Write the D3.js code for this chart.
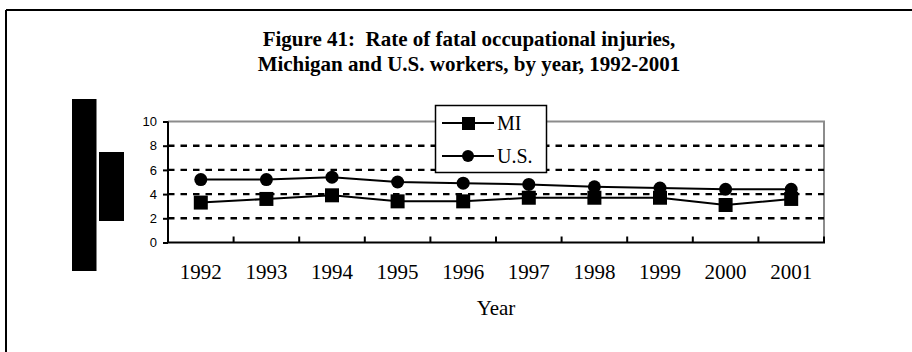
<!DOCTYPE html>
<html>
<head>
<meta charset="utf-8">
<script src="https://cdn.jsdelivr.net/npm/d3@7"></script>
<style>
  html, body { margin: 0; padding: 0; background: #fff; }
  svg { display: block; }
  text { white-space: pre; }
</style>
</head>
<body>
<svg id="chart" width="912" height="352"></svg>
<script>
// Fatal occupational injury rates (per 100,000 workers)
const years = ["1992", "1993", "1994", "1995", "1996", "1997", "1998", "1999", "2000", "2001"];
const miRates = [3.3, 3.6, 3.9, 3.4, 3.4, 3.7, 3.7, 3.7, 3.1, 3.6];
const usRates = [5.2, 5.2, 5.4, 5.0, 4.9, 4.8, 4.6, 4.5, 4.4, 4.4];
const yTicks = [0, 2, 4, 6, 8, 10];
const titleLines = [
  "Figure 41:  Rate of fatal occupational injuries,",
  "Michigan and U.S. workers, by year, 1992-2001"
];

const serif = "'Liberation Serif', 'Times New Roman', serif";
const svg = d3.select("#chart");
const plot = { left: 168, right: 824, top: 121.5, bottom: 242.5 };

// outer frame (top and left edges)
svg.append("line").attr("x1", 6).attr("x2", 912).attr("y1", 10).attr("y2", 10)
  .attr("stroke", "#000").attr("stroke-width", 2);
svg.append("line").attr("x1", 6).attr("x2", 6).attr("y1", 10).attr("y2", 352)
  .attr("stroke", "#000").attr("stroke-width", 2);

// title
svg.append("g").selectAll("text").data(titleLines).join("text")
  .attr("x", 469).attr("y", (d, i) => 46 + i * 25)
  .attr("text-anchor", "middle")
  .attr("font-family", serif)
  .attr("font-weight", "bold").attr("font-size", 21)
  .text(d => d);

// solid blocks standing in for the vertical axis title
svg.append("rect").attr("x", 72).attr("y", 99).attr("width", 24.5).attr("height", 172).attr("fill", "#000");
svg.append("rect").attr("x", 99).attr("y", 152).attr("width", 25).attr("height", 69).attr("fill", "#000");

const x = d3.scaleBand().domain(years).range([plot.left, plot.right]);
const y = d3.scaleLinear().domain([0, 10]).range([plot.bottom, plot.top]);

// plot border (top/right grey)
svg.append("path")
  .attr("d", `M${plot.left},${y(10)}H${plot.right}V${plot.bottom}`)
  .attr("fill", "none").attr("stroke", "#8c8c8c").attr("stroke-width", 2);

// dashed gridlines
svg.append("g").selectAll("line").data(yTicks.filter(v => v > 0 && v < 10)).join("line")
  .attr("x1", plot.left).attr("x2", plot.right)
  .attr("y1", d => y(d)).attr("y2", d => y(d))
  .attr("stroke", "#000").attr("stroke-width", 2.4)
  .attr("stroke-dasharray", "6.5,6");

// y axis
const yAxis = svg.append("g").attr("transform", `translate(${plot.left},0)`)
  .call(d3.axisLeft(y).tickValues(yTicks).tickSize(5).tickPadding(6));
yAxis.select(".domain").attr("stroke", "#000").attr("stroke-width", 2)
  .attr("d", `M0,${plot.top}V${plot.bottom}`);
yAxis.selectAll(".tick line").attr("stroke-width", 2);
yAxis.selectAll(".tick text")
  .attr("font-family", "'Liberation Sans', Arial, sans-serif").attr("font-size", 13)
  .attr("fill", "#000");

// x axis with inward ticks at category boundaries
const xAxisG = svg.append("g").attr("transform", `translate(0,${plot.bottom})`);
xAxisG.append("line").attr("x1", plot.left).attr("x2", plot.right + 1)
  .attr("stroke", "#000").attr("stroke-width", 2);
const boundaries = years.map(d => x(d) + x.bandwidth());
xAxisG.selectAll("line.tk").data(boundaries).join("line").attr("class", "tk")
  .attr("x1", d => d).attr("x2", d => d).attr("y1", 0).attr("y2", -6)
  .attr("stroke", "#000").attr("stroke-width", 2);
xAxisG.selectAll("text").data(years).join("text")
  .attr("x", d => x(d) + x.bandwidth() / 2).attr("y", 36.5)
  .attr("text-anchor", "middle")
  .attr("font-family", serif)
  .attr("font-size", 21).text(d => d);

// axis title
svg.append("text").attr("x", 496).attr("y", 315).attr("text-anchor", "middle")
  .attr("font-family", serif)
  .attr("font-size", 21).text("Year");

// series lines and markers
const cx = d => x(d) + x.bandwidth() / 2;
const line = d3.line().x(d => cx(d[0])).y(d => y(d[1]));
const us = years.map((d, i) => [d, usRates[i]]);
const mi = years.map((d, i) => [d, miRates[i]]);

[us, mi].forEach(s => {
  svg.append("path").datum(s).attr("d", line)
    .attr("fill", "none").attr("stroke", "#000").attr("stroke-width", 2);
});
svg.append("g").selectAll("circle").data(us).join("circle")
  .attr("cx", d => cx(d[0])).attr("cy", d => y(d[1])).attr("r", 6.5).attr("fill", "#000");
svg.append("g").selectAll("rect").data(mi).join("rect")
  .attr("x", d => cx(d[0]) - 7).attr("y", d => y(d[1]) - 7)
  .attr("width", 14).attr("height", 14).attr("fill", "#000");

// legend
const lg = svg.append("g");
lg.append("rect").attr("x", 435.5).attr("y", 105.5).attr("width", 111).attr("height", 67)
  .attr("fill", "#fff").attr("stroke", "#000").attr("stroke-width", 1.5);
const legendItems = [{ label: "MI", shape: "square", yy: 123 }, { label: "U.S.", shape: "circle", yy: 156 }];
legendItems.forEach(it => {
  lg.append("line").attr("x1", 442).attr("x2", 494).attr("y1", it.yy).attr("y2", it.yy)
    .attr("stroke", "#000").attr("stroke-width", 2);
  if (it.shape === "square") {
    lg.append("rect").attr("x", 462).attr("y", it.yy - 6).attr("width", 13).attr("height", 13).attr("fill", "#000");
  } else {
    lg.append("circle").attr("cx", 468).attr("cy", it.yy).attr("r", 6).attr("fill", "#000");
  }
  lg.append("text").attr("x", 497).attr("y", it.yy + 7)
    .attr("font-family", serif)
    .attr("font-size", 20).text(it.label);
});
</script>
</body>
</html>
